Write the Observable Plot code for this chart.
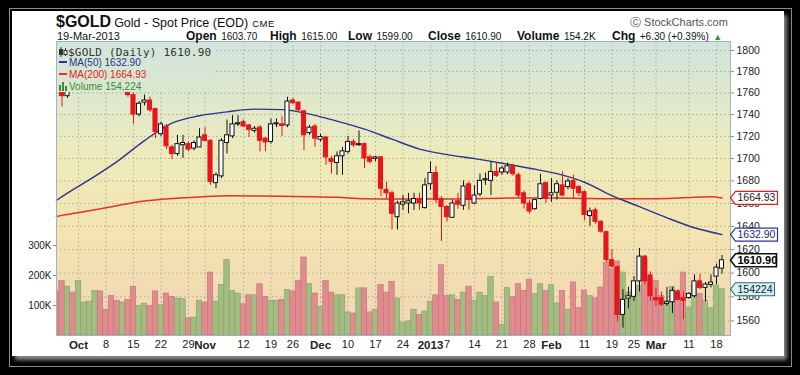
<!DOCTYPE html>
<html><head><meta charset="utf-8">
<script src="https://cdn.jsdelivr.net/npm/d3@7"></script>
<script src="https://cdn.jsdelivr.net/npm/@observablehq/plot@0.6"></script>
<style>
html,body{margin:0;padding:0;background:#000;width:800px;height:375px;overflow:hidden;font-family:"Liberation Sans",Arial,sans-serif;}
#wrap{position:relative;width:800px;height:375px;}
.abs{position:absolute;}
#line{left:9px;top:8px;width:783px;height:359px;border:1px solid #8a8a8a;box-sizing:border-box;}
#panel{left:12px;top:11px;width:772px;height:345px;background:#fff;box-shadow:3px 4px 4px #8a8a8a;}
#bg{left:56px;top:41px;width:674px;height:294px;background:linear-gradient(#d0e5dc 0%,#dfe8cc 20%,#eeebba 40%,#f3e4b0 65%,#f0d6b4 100%);}
.layer{position:absolute;left:0;top:0;}
#title{left:56px;top:13px;white-space:nowrap;line-height:17px;color:#111;}
#title .sym{font-size:16px;font-weight:bold;}
#title .nm{font-size:12.5px;margin-left:3px;}
#title .ex{font-size:9.5px;margin-left:4px;letter-spacing:0.5px;}
.st{top:28px;white-space:nowrap;line-height:14px;color:#111;}
.st b{font-size:12px;}
.st span{font-size:10px;}
#date{left:57px;top:29px;font-size:11px;line-height:14px;color:#111;}
#copy{left:630px;top:15px;font-size:11px;color:#555;line-height:14px;}
#legend{left:57px;top:42px;width:158px;height:50px;background:linear-gradient(#d1e5db,#dbe7cf);}
#legend div{position:absolute;white-space:nowrap;line-height:12px;}
</style></head>
<body><div id="wrap">
<div id="line" class="abs"></div>
<div id="panel" class="abs"></div>
<div id="bg" class="abs"></div>
<div id="plots"></div>
<div id="legend" class="abs"></div>
<div id="title" class="abs"><span class="sym">$GOLD</span><span class="nm">Gold - Spot Price (EOD)</span><span class="ex">CME</span></div>
<div id="date" class="abs"></div>
<div id="stats"></div>
<div id="copy" class="abs">&#9400; StockCharts.com</div>
</div>
<script>
// ---------- data (trading days from 25-Sep-2012 to 19-Mar-2013) ----------
const dayOpen = [1774,1766,1757,1777,1772,1776,1778,1780,1793,1782,1776,1767,1765,1768,1758,1740,1751,1753,1745,1722,1729,1710,1704,1712,1713,1709,1710,1721,1716,1678,1684,1714,1720,1731,1733,1730,1725,1728,1718,1715,1731,1731,1730,1753,1751,1743,1723,1729,1717,1719,1699.5,1696,1702,1706,1715,1712,1713,1701,1699.7,1701,1672,1669,1648,1659,1660,1660,1664,1656,1677,1687,1664,1657,1647.5,1662,1658,1677,1660,1668,1680.5,1680,1688,1687.5,1687.5,1693,1685,1669,1660,1655,1664,1678,1667,1669.5,1676,1674.5,1680,1674.5,1670,1649,1654,1644,1635,1611,1605,1565,1578.5,1580,1593,1614,1598,1579,1579,1574,1575.5,1584.5,1579,1579,1580.5,1593,1587.5,1590,1597,1603.7];
const dayHigh = [1778,1768,1780,1786,1786,1784,1785,1796,1798,1786,1779,1771,1774,1768,1760,1752,1758,1756,1746,1733,1731,1712,1721,1721,1715,1716,1727,1728,1717,1687,1718,1735,1739,1739,1735,1731,1729,1730,1719,1736,1736,1738,1756,1755,1752,1744,1730,1731,1722,1720,1702,1706,1710,1720,1717,1725,1714,1703,1702,1702,1679,1671,1662,1667,1669,1669,1669,1682,1697,1693,1666,1658,1663,1669,1680,1679,1676,1686,1687,1697,1696,1693,1696,1695,1687,1671,1663,1664,1686,1679,1682,1680,1688,1682,1685,1676,1671,1656,1656,1645,1636,1620,1606,1586,1588,1597,1621,1615,1601,1587.5,1584,1588,1588,1586,1584,1583.5,1598.5,1599,1592,1598.5,1607.5,1615];
const dayLow = [1766,1747,1755,1768,1768,1770,1771,1776,1774,1772,1765,1763,1764,1756,1731,1738,1748,1742,1718,1720,1708,1699,1702,1700,1706,1707,1710,1715,1676,1673,1682,1704,1718,1729,1728,1719,1723,1706,1706,1713,1728,1720,1728,1749,1742,1707,1721,1710,1715,1694,1686,1685,1685,1704,1710,1711,1691,1695,1697,1666,1664,1637,1637,1654,1651,1654,1654,1655,1672,1660,1627,1644,1647,1655,1654,1654,1659,1666,1676,1667,1683,1685,1685.5,1684,1665,1655,1651,1654,1663,1660,1661,1663,1666,1672,1664,1666,1645,1640,1642,1634,1609,1604,1559,1554,1570,1576,1584,1590,1576,1572,1572,1572,1566,1577,1561,1578,1579,1586,1576,1587.5,1590,1599];
const dayClose = [1766,1757,1777,1772,1776,1778,1780,1793,1782,1776,1767,1765,1770,1758,1740,1750,1753,1744,1724,1731,1711,1704,1713,1714,1708,1714,1719,1716,1679,1685,1716,1721,1731,1732,1729,1726,1727,1716,1714.5,1731,1732,1729.5,1752,1750.5,1744,1721,1728,1718,1719.5,1701,1697,1702,1706.5,1715,1712,1713,1700,1697,1701,1673,1669,1651,1660,1661,1662,1664,1660,1676,1687,1663,1657,1648,1660,1659,1675,1663,1667,1680,1681.5,1688,1684.5,1691,1693,1686,1667,1660,1653,1663,1677,1664,1669,1677,1667,1679.5,1673,1669,1650,1653,1644,1635.5,1611,1605.5,1565,1577.5,1580.5,1593,1614,1593,1580.5,1577,1573.5,1575.5,1585,1577.5,1576.7,1582.5,1593,1587.5,1590.3,1592,1604.6,1610.9];
const dayVolumeK = [147,182,163,143,182,110,113,149,147,86,132,116,110,119,162,99,106,99,147,102,140,129,123,121,57,60,116,110,210,113,169,252,149,140,104,134,134,171,129,116,116,119,152,147,182,260,171,140,96,182,143,134,134,77,73,157,157,77,86,168,143,179,123,41,47,86,69,80,113,134,234,132,134,119,143,163,116,143,132,196,110,36,158,129,171,149,186,138,171,149,168,107,149,86,177,92,150,132,124,160,243,221,247,210,143,149,166,254,188,182,132,116,162,136,210,93,171,138,116,91,166,154.224];
const lastVolume = 154224;
// moving averages read at sampled trading-day positions
const ma50Day = [0,1,6,11,16,21,26,31,36,41,46,51,56,61,66,71,76,81,86,91,96,101,106,111,116,121];
const ma50Val = [1662.6,1666.0,1681.1,1697.2,1716.2,1732.1,1738.9,1742.5,1745.0,1744.6,1740.4,1734.0,1726.7,1717.5,1708.5,1703.5,1699.9,1695.8,1691.3,1686.4,1678.8,1666.9,1657.2,1647.5,1638.8,1632.90];
const ma200Day = [0,1,6,11,16,21,26,31,36,41,46,51,56,61,66,71,76,81,86,91,96,101,106,111,116,119,121];
const ma200Val = [1648.6,1649.6,1653.7,1658.1,1662.2,1664.4,1665.8,1666.8,1666.6,1666.4,1666.0,1665.4,1664.2,1664.0,1664.0,1664.0,1664.2,1664.7,1664.9,1664.9,1664.4,1664.1,1664.2,1664.5,1665.5,1666.0,1664.93];
// x-axis labels
const tickDay = [4,9,14,19,24,27,34,39,43,48,53,58,63,68,71,76,81,86,90,96,101,105,109,115,120];
const tickText = ["Oct","8","15","22","29","Nov","12","19","26","Dec","10","17","24","2013","7","14","21","28","Feb","11","19","25","Mar","11","18"];
const tickBold = ["Oct","Nov","Dec","2013","Feb","Mar"];
const priceTicks = [1560,1580,1600,1620,1640,1660,1680,1700,1720,1740,1760,1780,1800];
const volumeTicks = [100000,200000,300000];
const header = {date:"19-Mar-2013", open:"1603.70", high:"1615.00", low:"1599.00", close:"1610.90", volume:"154.2K", chg:"+6.30 (+0.39%)"};

// ---------- build ----------
const RED = "#e8161b", BLACK = "#111", VRED = "#df8c8f", VGREEN = "#a2bc82";
const rows = dayOpen.map((o, j) => {
  const c = dayClose[j], prev = j ? dayClose[j-1] : o;
  const up = c >= prev;
  const color = up ? BLACK : RED;
  return {j, open:o, high:dayHigh[j], low:dayLow[j], close:c, vol:dayVolumeK[j]*1000, up, color, fill: c < o ? color : "#fff"};
});
const ma50 = ma50Day.map((j,k)=>({j, v:ma50Val[k]}));
const ma200 = ma200Day.map((j,k)=>({j, v:ma200Val[k]}));
const last = rows[rows.length-1];

const W=800, H=375, mt=41, mb=40, ml=56, mr=70;
const xDomain=[0,122.55];
const priceY = {type:"log", domain:[1548,1808.6], axis:null};
const volY = {type:"linear", domain:[0,980000], axis:null};
const base = {width:W, height:H, marginTop:mt, marginBottom:mb, marginLeft:ml, marginRight:mr,
  style:{background:"transparent", fontFamily:"'Liberation Sans', Arial, sans-serif", fontSize:"10.5px", color:"#222", overflow:"visible"}};
const idx = d3.scaleOrdinal(tickDay, tickText);

function tag(w){ return {draw(ctx){ const h=6.5; ctx.moveTo(0,0); ctx.lineTo(5,-h); ctx.lineTo(w,-h); ctx.lineTo(w,h); ctx.lineTo(5,h); ctx.closePath(); }}; }

// layer A: grid
const gridPlot = Plot.plot({...base, x:{domain:xDomain, axis:null}, y:priceY,
  marks:[
    Plot.gridY({ticks:priceTicks, stroke:"#8a8a8a", strokeOpacity:0.6, strokeDasharray:"1.5,2.5"}),
    Plot.gridX({ticks:tickDay, stroke:"#8a8a8a", strokeOpacity:0.6, strokeDasharray:"1.5,2.5"})
  ]});
// layer B: volume
const volPlot = Plot.plot({...base, x:{domain:xDomain, axis:null}, y:volY, color:{type:"identity"},
  marks:[
    Plot.rect(rows, {x1:d=>d.j-0.5, x2:d=>d.j+0.5, y1:0, y2:"vol", fill:d=>d.up?VGREEN:VRED, stroke:d=>d.up?"#86a266":"#c8707a", strokeWidth:0.6, clip:true}),
    Plot.axisY({anchor:"left", ticks:volumeTicks, tickFormat:d=>d/1000+"K", tickSize:3, tickPadding:2, stroke:"#888", label:null, fontSize:10})
  ]});
// layer C: price
const pricePlot = Plot.plot({...base, x:{domain:xDomain, axis:null}, y:priceY, color:{type:"identity"},
  marks:[
    Plot.line(ma200, {x:"j", y:"v", stroke:"#e8302a", strokeWidth:1.5, curve:"monotone-x"}),
    Plot.line(ma50, {x:"j", y:"v", stroke:"#2b3590", strokeWidth:1.4, curve:"monotone-x"}),
    Plot.ruleX(rows, {x:"j", y1:"low", y2:"high", stroke:"color", strokeWidth:1, clip:true}),
    Plot.rect(rows, {x1:d=>d.j-0.37, x2:d=>d.j+0.37, y1:"open", y2:"close", fill:"fill", stroke:"color", strokeWidth:1, clip:true}),
    Plot.frame({stroke:"#9fb4bc"}),
    Plot.axisY({anchor:"right", ticks:priceTicks, tickFormat:d=>String(d), tickSize:3, tickPadding:3, stroke:"#888", label:null, fontSize:10.5}),
    Plot.axisX({anchor:"bottom", ticks:tickDay.filter((d,k)=>!tickBold.includes(tickText[k])), tickFormat:d=>idx(d), tickSize:0, tickPadding:5, label:null, fontSize:11}),
    Plot.axisX({anchor:"bottom", ticks:tickDay.filter((d,k)=>tickBold.includes(tickText[k])), tickFormat:d=>idx(d), tickSize:0, tickPadding:5, label:null, fontSize:11.5, fontWeight:"bold"}),
    Plot.dot([ma200Val[ma200Val.length-1]], {y:d=>d, frameAnchor:"right", symbol:tag(47), r:5, fill:"#fff", stroke:"#e02020", strokeWidth:1.2}),
    Plot.text([ma200Val[ma200Val.length-1]], {y:d=>d, text:d=>d.toFixed(2), frameAnchor:"right", dx:7, textAnchor:"start", fill:"#222", fontSize:10.5}),
    Plot.dot([ma50Val[ma50Val.length-1]], {y:d=>d, frameAnchor:"right", symbol:tag(47), r:5, fill:"#fff", stroke:"#2b3590", strokeWidth:1.2}),
    Plot.text([ma50Val[ma50Val.length-1]], {y:d=>d, text:d=>d.toFixed(2), frameAnchor:"right", dx:7, textAnchor:"start", fill:"#1c2670", fontSize:10.5}),
    Plot.dot([last.close], {y:d=>d, frameAnchor:"right", symbol:tag(46), r:5, fill:"#fff", stroke:"#111", strokeWidth:1.6}),
    Plot.text([last.close], {y:d=>d, text:d=>d.toFixed(2), frameAnchor:"right", dx:7, textAnchor:"start", fill:"#000", fontSize:11, fontWeight:"bold"})
  ]});
// layer D: volume tag
const tagPlot = Plot.plot({...base, x:{domain:xDomain, axis:null}, y:volY,
  marks:[
    Plot.dot([lastVolume], {y:d=>d, frameAnchor:"right", symbol:tag(44), r:5, fill:"#d6f1f1", stroke:"#2f6878", strokeWidth:1.1}),
    Plot.text([lastVolume], {y:d=>d, text:d=>String(d), frameAnchor:"right", dx:7, textAnchor:"start", fill:"#123", fontSize:10.5})
  ]});

const holder = document.getElementById("plots");
for (const p of [gridPlot, volPlot, pricePlot, tagPlot]) { p.classList.add("layer"); p.style.position="absolute"; p.style.left="0"; p.style.top="0"; holder.appendChild(p); }

// header texts
document.getElementById("date").textContent = header.date;
const stats = [["Open",header.open,186],["High",header.high,270],["Low",header.low,348],["Close",header.close,428],["Volume",header.volume,517],["Chg",header.chg,612]];
const sdiv = document.getElementById("stats");
for (const [l,v,x] of stats) {
  const d = document.createElement("div"); d.className="abs st"; d.style.left=x+"px";
  d.innerHTML = `<b>${l}</b> <span>${v}</span>` + (l==="Chg" ? ` <span style="color:#2a9a2a;font-size:9px">&#9650;</span>` : "");
  sdiv.appendChild(d);
}
// legend
const lg = document.getElementById("legend");
lg.innerHTML = `
<div style="left:2px;top:4px;font:11px 'DejaVu Sans Mono',monospace;color:#333;letter-spacing:0.2px">
<svg width="9" height="10" style="vertical-align:-1px"><line x1="2" y1="0" x2="2" y2="10" stroke="#333"/><rect x="0.5" y="2.5" width="3" height="5" fill="#333" stroke="#333"/><line x1="6.5" y1="1" x2="6.5" y2="9" stroke="#333"/><rect x="5" y="3.5" width="3" height="4" fill="#fff" stroke="#333"/></svg>$GOLD (Daily) ${header.close}</div>
<div style="left:2px;top:15px;font-size:10px;color:#27338a"><span style="display:inline-block;width:8px;height:2px;background:#2b3590;vertical-align:3px;margin-right:2px"></span>MA(50) ${ma50Val[ma50Val.length-1].toFixed(2)}</div>
<div style="left:2px;top:27px;font-size:10px;color:#e02424"><span style="display:inline-block;width:8px;height:2px;background:#e8302a;vertical-align:3px;margin-right:2px"></span>MA(200) ${ma200Val[ma200Val.length-1].toFixed(2)}</div>
<div style="left:2px;top:39px;font-size:10px;color:#3a8a3a"><svg width="9" height="9" style="vertical-align:-1px;margin-right:1px"><rect x="0" y="3" width="2" height="6" fill="#3a8a3a"/><rect x="3" y="0" width="2" height="9" fill="#3a8a3a"/><rect x="6" y="4" width="2" height="5" fill="#3a8a3a"/></svg>Volume ${d3.format(",")(lastVolume)}</div>`;
</script>
</body></html>
